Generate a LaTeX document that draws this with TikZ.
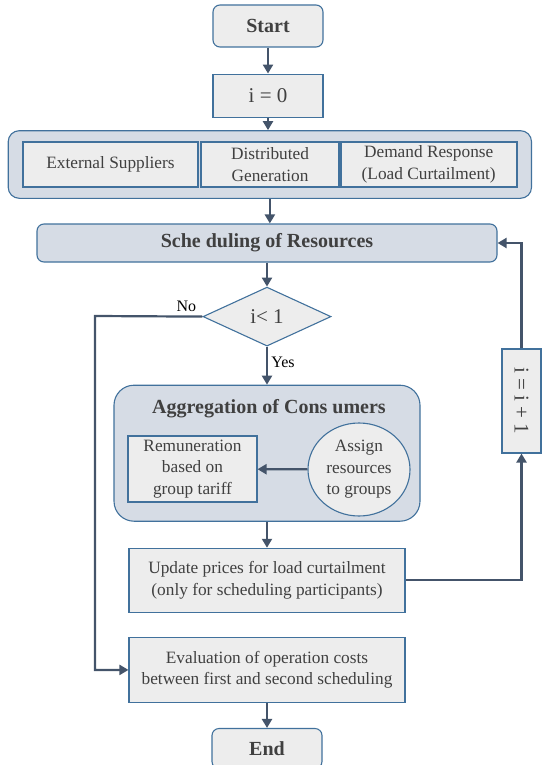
\documentclass[tikz,border=0pt]{standalone}
\usepackage{fontspec}
\setmainfont{Liberation Serif}
\newfontfamily\tnrfont{Liberation Serif}
\usepackage{graphicx}
\usepackage{tikz}
\usetikzlibrary{arrows.meta,shapes.geometric,positioning,backgrounds,fit}
\definecolor{boxline}{HTML}{41719C}
\definecolor{boxfill}{HTML}{EDEDED}
\definecolor{groupfill}{HTML}{D6DCE5}
\definecolor{arrowc}{HTML}{44546A}
\definecolor{txt}{HTML}{404040}
\newcommand{\boxfont}{\tnrfont\fontsize{17.3}{21.5}\selectfont}
\newcommand{\headfont}{\tnrfont\fontsize{20}{24}\selectfont\bfseries}
\newcommand{\eqfont}{\tnrfont\fontsize{21}{25}\selectfont}
\newcommand{\lblfont}{\tnrfont\fontsize{16}{19}\selectfont}

\begin{document}
\begin{tikzpicture}[x=1pt,y=-1pt,>={Triangle[length=9pt,width=10pt]},
    proc/.style={draw=boxline, fill=boxfill, text=txt, line width=1.1pt,
      inner sep=0pt, align=center, font=\boxfont},
    term/.style={proc, rounded corners=7pt, font=\headfont},
    group/.style={draw=boxline, fill=groupfill, line width=1.1pt},
    lbl/.style={text=black, font=\lblfont},
    arr/.style={->, draw=arrowc, line width=2.2pt}]
    \useasboundingbox (0,0) rectangle (542,765);
    % main chain
    \node[term, minimum width=110pt, minimum height=42pt] (start) at (268,26) {Start};
    \node[proc, font=\eqfont, minimum width=110pt, minimum height=43pt, below=26pt of start] (init) {i = 0};
    \node[proc, line width=1.6pt, minimum width=175pt, minimum height=45pt] (ext) at (110.5,164.5) {External Suppliers};
    \node[proc, line width=1.6pt, minimum width=138pt, minimum height=45pt, right=1.5pt of ext] (dist) {Distributed\\Generation};
    \node[proc, line width=1.6pt, minimum width=176pt, minimum height=45pt, right=0pt of dist] (dem) {Demand Response\\(Load Curtailment)};
    \begin{scope}[on background layer]
      \node[group, rounded corners=11pt, fit=(ext)(dem), inner xsep=14pt, inner ysep=10.5pt] (res) {};
    \end{scope}
    \node[group, rounded corners=7pt, text=txt, font=\headfont, minimum width=460pt, minimum height=38pt] (sched) at (267,243) {Sche duling of Resources};
    \node[proc, diamond, font=\eqfont, minimum width=128pt, minimum height=59pt, below=24pt of sched] (dec) {i< 1};
    \node[group, rounded corners=20pt, minimum width=306pt, minimum height=136pt, below=38pt of dec] (agg) {};
    \node[text=txt, font=\headfont] (aggtitle) at (269,409) {Aggregation of Cons umers};
    \node[proc, minimum width=129pt, minimum height=66pt] (rem) at (192.5,469) {Remuneration\\based on\\group tariff};
    \node[proc, ellipse, minimum width=102pt, minimum height=93pt] (assign) at (359,469.5) {Assign\\resources\\to groups};
    \node[proc, minimum width=276pt, minimum height=64pt, below=26pt of agg] (upd) {Update prices for load curtailment\\(only for scheduling participants)};
    \node[proc, minimum width=276pt, minimum height=65pt, below=24pt of upd] (eval) {Evaluation of operation costs\\between first and second scheduling};
    \node[term, minimum width=110pt, minimum height=40pt, below=25pt of eval] (stop) {End};
    % loop counter
    \node[proc, minimum width=39pt, minimum height=104pt] (inc) at (521.5,401) {\rotatebox{-90}{\eqfont i = i + 1}};
    \coordinate (nocorner) at (95,316);
    % connectors
    \draw[arr] (start) -- (init);
    \draw[arr] (init.south) -- (init.south |- res.north);
    \draw[arr] (res.south) -- (res.south |- sched.north);
    \draw[arr] (sched) -- (dec);
    \draw[arr] (dec) -- node[lbl, right, pos=0.4] {Yes} (agg);
    \draw[arr] (assign) -- (rem);
    \draw[arr] (agg.south) -- (upd.north);
    \draw[arr] (eval) -- (stop);
    \draw[arr] (upd.east) -| (inc.south);
    \draw[arr] (inc.north) |- (sched.east);
    \draw[arr] (dec.west) -- node[lbl, above, pos=0.15] {No} (nocorner) |- (eval.west);
\end{tikzpicture}
\end{document}
